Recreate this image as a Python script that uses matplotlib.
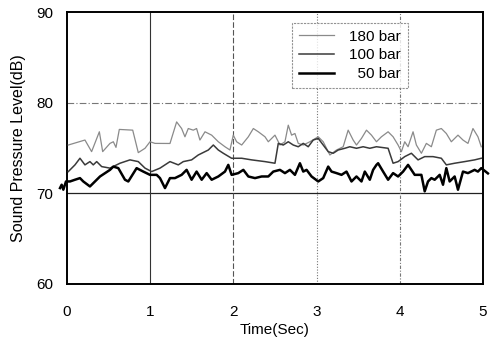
import matplotlib.pyplot as plt

plt.rcParams['font.family'] = ['Liberation Sans', 'DejaVu Sans']

# 180 bar (thin light grey)
t_180 = [0.016, 0.216, 0.296, 0.389, 0.429, 0.517, 0.557, 0.589, 0.629, 0.79, 0.857, 0.938, 0.998, 1.058,
         1.238, 1.318, 1.378, 1.418, 1.458, 1.518, 1.558, 1.598, 1.659, 1.739, 1.819, 1.899, 1.959, 1.999,
         2.039, 2.10, 2.18, 2.24, 2.30, 2.38, 2.42, 2.50, 2.52, 2.56, 2.62, 2.66, 2.70, 2.74, 2.78, 2.84,
         2.92, 3.02, 3.08, 3.16, 3.24, 3.32, 3.38, 3.44, 3.48, 3.54, 3.60, 3.66, 3.72, 3.78, 3.86, 3.92,
         3.98, 4.02, 4.06, 4.10, 4.16, 4.20, 4.26, 4.32, 4.38, 4.44, 4.50, 4.56, 4.62, 4.70, 4.76, 4.82,
         4.88, 4.94, 4.98]
v_180 = [75.33, 75.88, 74.6, 76.79, 74.6, 75.51, 75.69, 75.07, 77.05, 76.97, 74.49, 74.97, 75.69, 75.51,
         75.5, 77.88, 77.15, 76.24, 77.15, 76.97, 77.15, 75.88, 76.79, 76.42, 75.69, 75.14, 74.78, 76.42,
         75.69, 75.33, 76.24, 77.15, 76.79, 76.24, 75.69, 76.42, 76.06, 75.33, 75.69, 77.52, 76.42, 76.6,
         75.51, 75.33, 75.69, 76.24, 75.69, 74.23, 74.78, 75.14, 76.97, 75.88, 75.33, 76.06, 76.97, 76.42,
         75.69, 76.24, 76.79, 76.24, 75.33, 74.6, 75.69, 75.14, 76.79, 75.33, 74.42, 75.51, 75.14, 76.97,
         77.15, 76.6, 75.69, 76.42, 75.88, 75.51, 77.15, 76.24, 75.14]

# 100 bar (medium)
t_100 = [0.016, 0.096, 0.156, 0.216, 0.276, 0.316, 0.357, 0.417, 0.517, 0.637, 0.757, 0.857, 0.938,
         1.018, 1.118, 1.238, 1.338, 1.398, 1.498, 1.578, 1.699, 1.759, 1.819, 1.879, 1.979, 2.10, 2.22,
         2.38, 2.50, 2.54, 2.60, 2.66, 2.72, 2.78, 2.84, 2.90, 2.96, 3.02, 3.08, 3.14, 3.20, 3.26, 3.34,
         3.40, 3.48, 3.56, 3.64, 3.72, 3.86, 3.92, 3.98, 4.06, 4.14, 4.22, 4.30, 4.40, 4.50, 4.56, 4.66,
         4.78, 4.90, 4.98]
v_100 = [72.4, 73.14, 73.87, 73.14, 73.5, 73.14, 73.5, 72.95, 72.78, 73.32, 73.69, 73.5, 72.78,
         72.4, 72.78, 73.5, 73.14, 73.5, 73.69, 74.23, 74.78, 75.33, 74.78, 74.42, 73.87, 73.87, 73.69,
         73.5, 73.32, 75.51, 75.33, 75.69, 75.33, 75.14, 75.51, 75.14, 75.88, 76.06, 75.33, 74.6, 74.42,
         74.78, 74.97, 75.14, 74.97, 75.14, 74.97, 75.14, 74.97, 73.32, 73.5, 74.05, 74.42, 73.69, 74.05,
         74.05, 73.87, 73.14, 73.32, 73.5, 73.69, 73.87]

# 50 bar (thick black)
t_50 = [-0.084, -0.064, -0.044, -0.012, 0.036, 0.096, 0.156, 0.196, 0.276, 0.397, 0.517, 0.557, 0.617,
        0.697, 0.737, 0.837, 0.917, 0.998, 1.078, 1.118, 1.178, 1.238, 1.298, 1.378, 1.438, 1.498, 1.558,
        1.619, 1.679, 1.739, 1.819, 1.899, 1.939, 1.979, 2.059, 2.12, 2.18, 2.26, 2.34, 2.42, 2.48, 2.56,
        2.62, 2.68, 2.74, 2.80, 2.84, 2.88, 2.94, 3.02, 3.08, 3.14, 3.18, 3.24, 3.30, 3.36, 3.42, 3.48,
        3.54, 3.58, 3.64, 3.68, 3.72, 3.74, 3.80, 3.86, 3.92, 3.98, 4.04, 4.10, 4.14, 4.18, 4.26, 4.30,
        4.34, 4.38, 4.42, 4.48, 4.52, 4.56, 4.60, 4.66, 4.70, 4.76, 4.82, 4.90, 4.94, 4.98, 5.06]
v_50 = [70.58, 70.95, 70.4, 71.31, 71.31, 71.5, 71.68, 71.31, 70.76, 71.86, 72.59, 72.95, 72.78,
        71.5, 71.31, 72.78, 72.4, 72.04, 72.04, 71.68, 70.58, 71.68, 71.68, 72.04, 72.59, 71.5, 72.4,
        71.5, 72.23, 71.5, 71.86, 72.4, 73.14, 72.04, 72.23, 72.59, 71.86, 71.68, 71.86, 71.86, 72.4, 72.59,
        72.23, 72.59, 72.04, 73.32, 72.4, 72.59, 71.86, 71.31, 71.68, 72.95, 72.4, 72.23, 72.04, 72.4, 71.31, 71.86,
        71.31, 72.4, 71.5, 72.59, 73.14, 73.32, 72.4, 71.5, 72.23, 71.86, 72.4, 73.14, 72.59, 72.04, 72.04, 70.22,
        71.31, 71.68, 71.5, 72.04, 70.95, 72.78, 71.31, 71.86, 70.4, 72.4, 72.23, 72.59, 72.4, 72.78, 72.2]

x_ticks = [0, 1, 2, 3, 4, 5]
y_ticks = [60, 70, 80, 90]

fig = plt.figure(figsize=(4.94, 3.37), dpi=100)
ax = fig.add_axes([0.1356, 0.1573, 0.842, 0.807])

# grid drawn by hand to mimic the scanned styles
ax.axhline(80, color='#777777', lw=0.8, ls=(0, (6, 2, 1, 2)), zorder=1)
ax.axhline(70, color='#222222', lw=0.9, zorder=1)
ax.axvline(1, color='#333333', lw=0.8, zorder=1)
ax.axvline(2, color='#555555', lw=0.8, ls=(0, (5, 2)), zorder=1)
ax.axvline(3, color='#777777', lw=0.8, ls=(0, (1, 1.5)), zorder=1)
ax.axvline(4, color='#777777', lw=0.8, ls=(0, (3, 1.5, 1, 1.5)), zorder=1)

ax.plot(t_180, v_180, color='#8a8a8a', lw=0.9, label='180 bar', zorder=3)
ax.plot(t_100, v_100, color='#3a3a3a', lw=1.1, label='100 bar', zorder=3)
ax.plot(t_50, v_50, color='black', lw=1.8, label='  50 bar', zorder=4, clip_on=False)

ax.set_xlim(0, 5)
ax.set_ylim(60, 90)
ax.set_xticks(x_ticks)
ax.set_yticks(y_ticks)
ax.tick_params(length=0, labelsize=11)
ax.tick_params(axis='y', pad=10)
ax.tick_params(axis='x', pad=15)
for s in ax.spines.values():
    s.set_linewidth(1.4)

ax.set_xlabel('Time(Sec)', fontsize=11, labelpad=3)
ax.set_ylabel('Sound Pressure Level(dB)', fontsize=11.5, labelpad=7)

leg = ax.legend(loc='upper right', bbox_to_anchor=(0.82, 0.96), borderaxespad=0, fontsize=11,
                fancybox=False, handlelength=2.3, handletextpad=1.0, borderpad=0.45, labelspacing=0.3)
leg.get_frame().set_edgecolor('#777777')
leg.get_frame().set_linestyle((0, (2, 1)))
leg.get_frame().set_linewidth(0.8)

fig.savefig('out.png', dpi=100)
